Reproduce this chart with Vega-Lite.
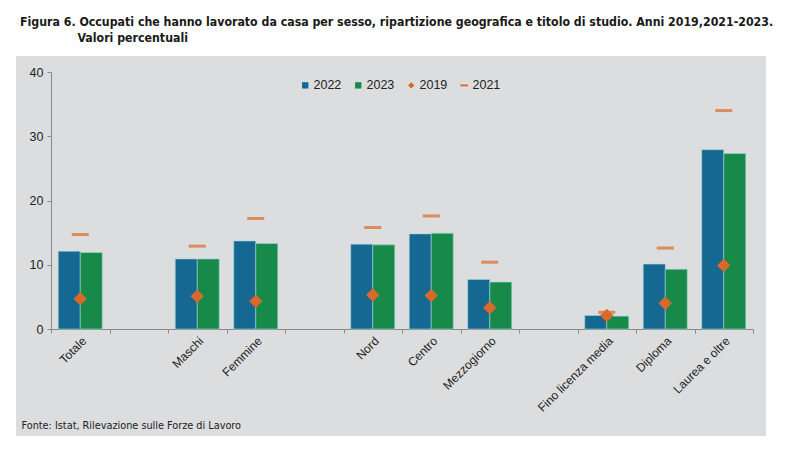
{
  "$schema": "https://vega.github.io/schema/vega-lite/v6.json",
  "width": 750,
  "height": 380,
  "autosize": {"type": "none"},
  "padding": {"left": 16, "top": 56, "right": 34, "bottom": 26},
  "background": "white",
  "title": {
    "text": ["Figura 6. Occupati che hanno lavorato da casa per sesso, ripartizione geografica e titolo di studio. Anni 2019,2021-2023.", "\u200b\u00a0\u00a0\u00a0\u00a0\u00a0\u00a0\u00a0\u00a0\u00a0\u00a0\u00a0\u00a0\u00a0\u00a0\u00a0Valori percentuali"],
    "anchor": "start",
    "frame": "group",
    "dx": 4,
    "offset": 12,
    "font": "DejaVu Sans Condensed, sans-serif",
    "fontSize": 12.25,
    "fontWeight": "bold",
    "color": "#1a1a1a",
    "lineHeight": 16
  },
  "config": {
    "view": {"fill": "#DCDDDE", "stroke": null},
    "font": "Liberation Sans, Arial, sans-serif"
  },
  "data": {
    "values": [
      {"cat": "Totale", "anno": "2022", "valore": 12.1},
      {"cat": "Totale", "anno": "2023", "valore": 11.9},
      {"cat": "Totale", "anno": "2019", "valore": 4.7},
      {"cat": "Totale", "anno": "2021", "valore": 14.7},
      {"cat": "Maschi", "anno": "2022", "valore": 10.9},
      {"cat": "Maschi", "anno": "2023", "valore": 10.9},
      {"cat": "Maschi", "anno": "2019", "valore": 5.1},
      {"cat": "Maschi", "anno": "2021", "valore": 12.9},
      {"cat": "Femmine", "anno": "2022", "valore": 13.7},
      {"cat": "Femmine", "anno": "2023", "valore": 13.3},
      {"cat": "Femmine", "anno": "2019", "valore": 4.3},
      {"cat": "Femmine", "anno": "2021", "valore": 17.2},
      {"cat": "Nord", "anno": "2022", "valore": 13.2},
      {"cat": "Nord", "anno": "2023", "valore": 13.1},
      {"cat": "Nord", "anno": "2019", "valore": 5.3},
      {"cat": "Nord", "anno": "2021", "valore": 15.8},
      {"cat": "Centro", "anno": "2022", "valore": 14.8},
      {"cat": "Centro", "anno": "2023", "valore": 14.9},
      {"cat": "Centro", "anno": "2019", "valore": 5.2},
      {"cat": "Centro", "anno": "2021", "valore": 17.6},
      {"cat": "Mezzogiorno", "anno": "2022", "valore": 7.7},
      {"cat": "Mezzogiorno", "anno": "2023", "valore": 7.3},
      {"cat": "Mezzogiorno", "anno": "2019", "valore": 3.3},
      {"cat": "Mezzogiorno", "anno": "2021", "valore": 10.4},
      {"cat": "Fino licenza media", "anno": "2022", "valore": 2.1},
      {"cat": "Fino licenza media", "anno": "2023", "valore": 2.0},
      {"cat": "Fino licenza media", "anno": "2019", "valore": 2.1},
      {"cat": "Fino licenza media", "anno": "2021", "valore": 2.6},
      {"cat": "Diploma", "anno": "2022", "valore": 10.1},
      {"cat": "Diploma", "anno": "2023", "valore": 9.3},
      {"cat": "Diploma", "anno": "2019", "valore": 4.0},
      {"cat": "Diploma", "anno": "2021", "valore": 12.6},
      {"cat": "Laurea e oltre", "anno": "2022", "valore": 27.9},
      {"cat": "Laurea e oltre", "anno": "2023", "valore": 27.3},
      {"cat": "Laurea e oltre", "anno": "2019", "valore": 9.9},
      {"cat": "Laurea e oltre", "anno": "2021", "valore": 34.0}
    ]
  },
  "encoding": {
    "x": {
      "field": "cat",
      "type": "nominal",
      "scale": {
        "domain": ["Totale", "_1", "Maschi", "Femmine", "_2", "Nord", "Centro", "Mezzogiorno", "_3", "Fino licenza media", "Diploma", "Laurea e oltre"],
        "range": [35, 737],
        "paddingInner": 0,
        "paddingOuter": 0
      },
      "axis": {
        "orient": "bottom",
        "offset": -107,
        "tickBand": "extent",
        "labelAngle": -45,
        "labelExpr": "indexof(datum.label, '_') == 0 ? '' : datum.label",
        "labelFontSize": 12,
        "labelColor": "#222222",
        "domainColor": "#8a8a8a",
        "tickColor": "#8a8a8a",
        "tickSize": 4,
        "labelPadding": 2,
        "title": "Fonte: Istat, Rilevazione sulle Forze di Lavoro",
        "titleAnchor": null,
        "titleAlign": "left",
        "titleBaseline": "alphabetic",
        "titleX": 5,
        "titleY": 99,
        "titleFont": "DejaVu Sans Condensed, sans-serif",
        "titleFontSize": 10.8,
        "titleFontWeight": "normal",
        "titleColor": "#222222"
      }
    },
    "y": {
      "field": "valore",
      "type": "quantitative",
      "scale": {"domain": [0, 40], "range": [273, 16], "nice": false, "zero": true},
      "axis": {
        "orient": "left",
        "offset": -35,
        "values": [0, 10, 20, 30, 40],
        "grid": false,
        "title": null,
        "labelFontSize": 12.5,
        "labelColor": "#222222",
        "domainColor": "#8a8a8a",
        "tickColor": "#8a8a8a",
        "tickSize": 4,
        "labelPadding": 4
      }
    },
    "color": {
      "field": "anno",
      "type": "nominal",
      "scale": {
        "domain": ["2022", "2023", "2019", "2021"],
        "range": ["#156891", "#178A4A", "#D8692A", "#D8692A"]
      },
      "legend": {
        "title": null,
        "orient": "none",
        "legendX": 283,
        "legendY": 23,
        "direction": "horizontal",
        "labelFontSize": 12.5,
        "labelColor": "#222222",
        "symbolSize": 40,
        "labelOffset": 2,
        "columnPadding": 10,
        "symbolStrokeWidth": 0
      }
    }
  },
  "layer": [
    {
      "transform": [{"filter": "datum.anno == '2022' || datum.anno == '2023'"}],
      "mark": {"type": "bar", "stroke": "#9fd3dc", "strokeWidth": 0.6},
      "encoding": {
        "xOffset": {
          "field": "anno",
          "type": "nominal",
          "scale": {"domain": ["2022", "2023"], "paddingInner": 0, "paddingOuter": 0.33}
        }
      }
    },
    {
      "transform": [{"filter": "datum.anno == '2021'"}],
      "mark": {"type": "tick", "size": 17, "thickness": 3, "orient": "horizontal"},
      "encoding": {}
    },
    {
      "transform": [{"filter": "datum.anno == '2019'"}],
      "mark": {"type": "point", "filled": true, "opacity": 1, "size": 180},
      "encoding": {
        "shape": {
          "field": "anno",
          "type": "nominal",
          "scale": {
            "domain": ["2022", "2023", "2019", "2021"],
            "range": ["square", "square", "diamond", "M-1.2,-0.3H1.2V0.3H-1.2Z"]
          },
          "legend": {
            "title": null,
            "orient": "none",
            "legendX": 283,
            "legendY": 23,
            "direction": "horizontal",
            "labelFontSize": 12.5,
            "labelColor": "#222222",
            "symbolSize": 40,
            "labelOffset": 2,
            "columnPadding": 10,
            "symbolStrokeWidth": 0
          }
        }
      }
    }
  ]
}
